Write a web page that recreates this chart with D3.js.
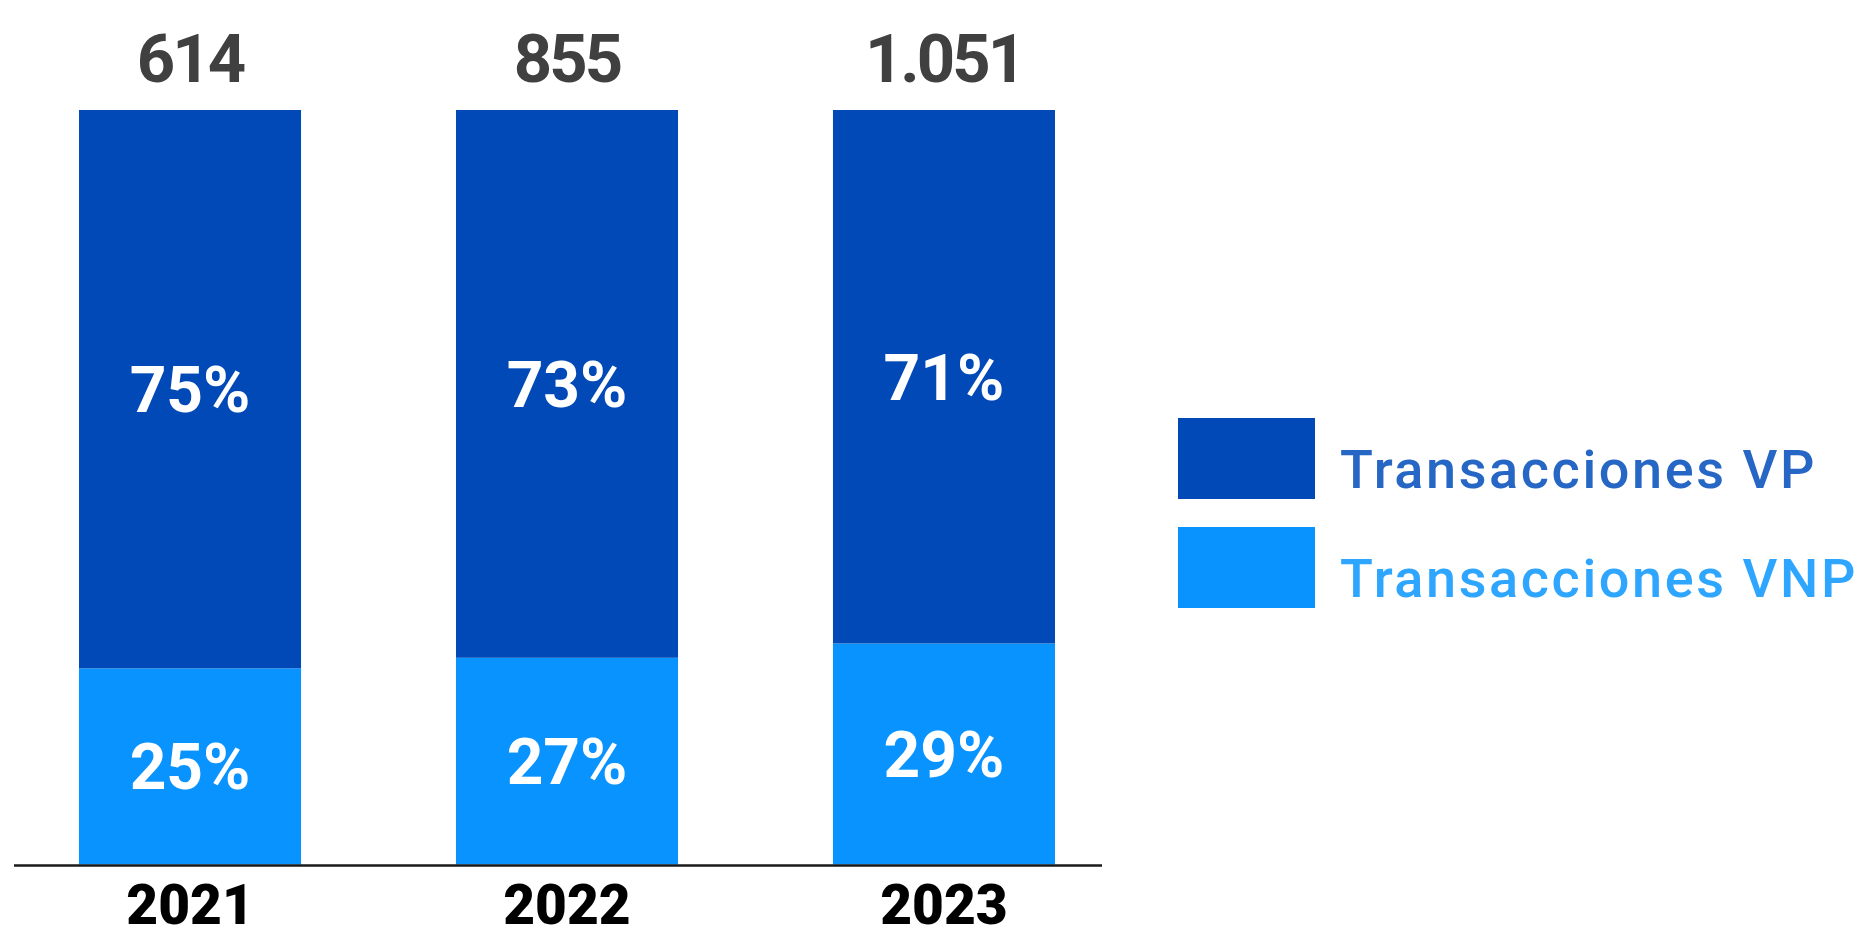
<!DOCTYPE html>
<html>
<head>
<meta charset="utf-8">
<script src="https://cdn.jsdelivr.net/npm/d3@7"></script>
<style>
  html, body { margin: 0; padding: 0; background: #ffffff; }
  svg { display: block; }
</style>
</head>
<body>
<svg id="chart" width="1865" height="938"></svg>
<script>
// ---- data ----
const years = ["2021", "2022", "2023"];
const totals = ["614", "855", "1.051"];
const vpLabels = ["75%", "73%", "71%"];
const vnpLabels = ["25%", "27%", "29%"];
// segment shares as drawn in the picture (percent of bar height)
const vnpShare = [26.0, 27.4, 29.3];
const vpShare = [74.0, 72.6, 70.7];
const seriesNames = ["Transacciones VP", "Transacciones VNP"];

// ---- styles ----
const colVP = "#0049B7";
const colVNP = "#0893FF";
const legendTextCol = ["#2666C4", "#2EA6FF"];
const fontMain = "Roboto, 'Liberation Sans', sans-serif";

const svg = d3.select("#chart");

const x = d3.scaleBand().domain(years).range([79, 1055]).paddingInner(0.411).paddingOuter(0);
const y = d3.scaleLinear().domain([0, 100]).range([864.5, 110]);

const rows = years.map((yr, i) => ({
  year: yr, total: totals[i], vnp: vnpShare[i], vp: vpShare[i],
  vpLabel: vpLabels[i], vnpLabel: vnpLabels[i]
}));

const stack = d3.stack().keys(["vnp", "vp"]);
const stacked = stack(rows);
const colors = { vnp: colVNP, vp: colVP };

const g = svg.append("g");
stacked.forEach(layer => {
  g.selectAll(null).data(layer).enter().append("rect")
    .attr("x", d => x(d.data.year))
    .attr("width", x.bandwidth())
    .attr("y", d => y(d[1]))
    .attr("height", d => y(d[0]) - y(d[1]))
    .attr("fill", colors[layer.key]);
});

// percent labels
stacked.forEach(layer => {
  g.selectAll(null).data(layer).enter().append("text")
    .attr("x", d => x(d.data.year) + x.bandwidth() / 2)
    .attr("y", d => (y(d[0]) + y(d[1])) / 2)
    .attr("dy", "0.36em")
    .attr("text-anchor", "middle")
    .attr("fill", "#ffffff")
    .attr("font-family", fontMain)
    .attr("font-weight", 700)
    .attr("font-size", 64)
    .text(d => layer.key === "vp" ? d.data.vpLabel : d.data.vnpLabel);
});

// totals
g.selectAll(null).data(rows).enter().append("text")
  .attr("x", d => x(d.year) + x.bandwidth() / 2)
  .attr("y", 81.5)
  .attr("text-anchor", "middle")
  .attr("fill", "#404040")
  .attr("font-family", fontMain)
  .attr("font-weight", 700)
  .attr("font-size", 67)
  .attr("letter-spacing", -3)
  .text(d => d.total);

// baseline
svg.append("line")
  .attr("x1", 14).attr("x2", 1102)
  .attr("y1", 865.5).attr("y2", 865.5)
  .attr("stroke", "#1a1a1a").attr("stroke-width", 2.5);

// year labels
g.selectAll(null).data(rows).enter().append("text")
  .attr("x", d => x(d.year) + x.bandwidth() / 2)
  .attr("y", 924)
  .attr("text-anchor", "middle")
  .attr("fill", "#000000")
  .attr("font-family", fontMain)
  .attr("font-weight", 900)
  .attr("font-size", 55)
  .text(d => d.year);

// legend
const legend = svg.append("g");
const legendY = [418, 527];
seriesNames.forEach((name, i) => {
  legend.append("rect")
    .attr("x", 1178).attr("y", legendY[i])
    .attr("width", 137).attr("height", 81)
    .attr("fill", i === 0 ? colVP : colVNP);
  legend.append("text")
    .attr("x", 1340).attr("y", legendY[i] + 70)
    .attr("fill", legendTextCol[i])
    .attr("font-family", fontMain)
    .attr("font-weight", 500)
    .attr("font-size", 54)
    .attr("letter-spacing", 2.6)
    .text(name);
});
</script>
</body>
</html>
